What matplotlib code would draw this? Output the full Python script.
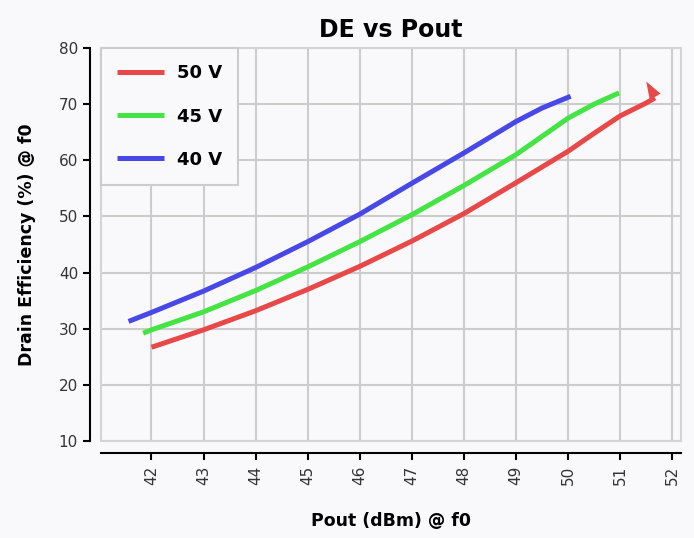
import matplotlib
matplotlib.use("Agg")
import matplotlib.pyplot as plt
from matplotlib.markers import MarkerStyle

# Drain efficiency vs output power, one curve per supply voltage
pout_50v = [42.0, 43.0, 44.0, 45.0, 46.0, 47.0, 48.0, 49.0, 50.0, 50.5, 51.0, 51.5, 51.67]
de_50v = [26.7, 29.8, 33.2, 37.0, 41.1, 45.6, 50.5, 56.0, 61.6, 64.8, 67.9, 70.2, 71.1]

pout_45v = [41.84, 42.0, 43.0, 44.0, 45.0, 46.0, 47.0, 48.0, 49.0, 50.0, 50.5, 50.98]
de_45v = [29.2, 29.8, 33.0, 36.8, 41.0, 45.5, 50.3, 55.5, 61.0, 67.5, 70.0, 72.0]

pout_40v = [41.56, 42.0, 43.0, 44.0, 45.0, 46.0, 47.0, 48.0, 49.0, 49.5, 50.05]
de_40v = [31.3, 32.9, 36.7, 40.9, 45.5, 50.4, 55.9, 61.3, 66.9, 69.3, 71.4]

labels = ["50 V", "45 V", "40 V"]
colors = ["#e84848", "#44e444", "#4848e8"]

# arrowhead closing the 50 V curve
arrow_pos = (51.6, 72.5)

x_ticks = list(range(42, 53))
y_ticks = list(range(10, 81, 10))

BG = "#f9f9fb"


def main() -> None:
    fig = plt.figure(figsize=(6.94, 5.38), dpi=100, facecolor=BG)
    ax = fig.add_axes([0.1455, 0.1803, 0.8358, 0.7305], facecolor=BG)

    series = [(pout_50v, de_50v), (pout_45v, de_45v), (pout_40v, de_40v)]
    for (x, y), label, color in zip(series, labels, colors):
        ax.plot(x, y, color=color, lw=3.6, label=label, solid_capstyle="butt", zorder=3)

    head = MarkerStyle([(0, 1), (-0.6, -0.7), (0.6, -0.7), (0, 1)]).rotated(deg=30)
    ax.plot([arrow_pos[0]], [arrow_pos[1]], linestyle="none", marker=head,
            markersize=15, color=colors[0], markeredgewidth=0, zorder=4)

    ax.set_xlim(41.03, 52.17)
    ax.set_ylim(10, 80)
    ax.set_xticks(x_ticks)
    ax.set_yticks(y_ticks)
    ax.tick_params(axis="x", labelrotation=90, labelsize=11, labelcolor="#333333",
                   length=5, width=1.5, direction="out")
    ax.tick_params(axis="y", labelsize=11, labelcolor="#333333",
                   length=5, width=1.5, direction="out")

    ax.grid(True, color="#cccccc", lw=1.5, zorder=0)
    ax.set_axisbelow(True)

    ax.spines["left"].set_position(("outward", 8))
    ax.spines["bottom"].set_position(("outward", 9))
    for side in ["left", "bottom"]:
        ax.spines[side].set_linewidth(1.5)
        ax.spines[side].set_color("black")
    for side in ["top", "right"]:
        ax.spines[side].set_visible(False)
    # light frame around the plotting area
    ax.add_patch(plt.Rectangle((0, 0), 1, 1, transform=ax.transAxes, fill=False,
                               edgecolor="#d4d4d4", lw=1.5, zorder=1, clip_on=False))

    ax.set_title("DE vs Pout", fontsize=17, fontweight="bold", pad=8)
    ax.set_xlabel("Pout (dBm) @ f0", fontsize=12.5, fontweight="bold", labelpad=20)
    ax.set_ylabel("Drain Efficiency (%) @ f0", fontsize=12.5, fontweight="bold", labelpad=16)

    leg = ax.legend(
        loc="upper left",
        bbox_to_anchor=(0, 1),
        borderaxespad=0,
        fancybox=False,
        frameon=True,
        prop={"size": 13, "weight": "bold"},
        handlelength=2.6,
        handletextpad=0.7,
        labelspacing=1.4,
        borderpad=0.9,
    )
    leg.get_frame().set_edgecolor("#cccccc")
    leg.get_frame().set_facecolor(BG)
    leg.get_frame().set_linewidth(1.5)
    leg.get_frame().set_alpha(1)

    fig.savefig("out.png", dpi=100, facecolor=BG)
    plt.close(fig)


if __name__ == "__main__":
    main()
